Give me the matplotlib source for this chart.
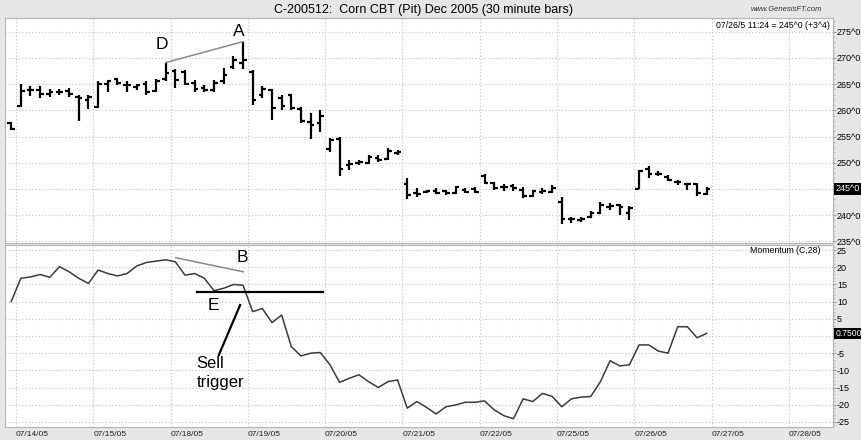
import numpy as np
import matplotlib
matplotlib.use("Agg")
import matplotlib.pyplot as plt
import matplotlib.transforms as mtransforms
from matplotlib.ticker import MultipleLocator, FuncFormatter

# ---------------- data ----------------
title = "C-200512:  Corn CBT (Pit) Dec 2005 (30 minute bars)"
site = "www.GenesisFT.com"
last_info = "07/26/5 11:24 = 245^0 (+3^4)"
mom_label = "Momentum (C,28)"
dates = ["07/14/05", "07/15/05", "07/18/05", "07/19/05", "07/20/05", "07/21/05",
         "07/22/05", "07/25/05", "07/26/05", "07/27/05", "07/28/05"]
bars_per_day = 8
first_bar = -1   # last bar of 07/13 session shown before 07/14

opens = [257.6,
         260.8, 263.9, 263.9, 263.1, 263.5, 263.7, 262.6, 262.0,
         260.6, 265.0, 265.9, 264.8, 264.5, 265.1, 263.7, 265.9,
         267.4, 267.3, 265.2, 264.2, 263.8, 265.5, 268.3, 269.1,
         267.3, 263.0, 263.9, 262.3, 262.9, 260.3, 257.8, 257.5,
         252.6, 254.6, 249.5, 250.0, 250.0, 251.0, 250.8, 251.8,
         246.0, 244.3, 244.5, 244.7, 244.6, 244.2, 244.9, 245.0,
         247.4, 246.2, 245.3, 245.6, 244.9, 243.7, 244.5, 244.4,
         242.5, 239.2, 239.0, 239.6, 240.5, 241.6, 242.0, 240.4,
         245.0, 248.8, 247.9, 247.3, 246.4, 246.0, 246.0, 244.0]
highs = [257.8,
         265.1, 264.7, 264.7, 264.0, 264.0, 264.2, 262.9, 262.9,
         265.5, 265.8, 266.1, 265.5, 265.1, 265.5, 265.9, 269.1,
         267.9, 267.7, 265.8, 264.8, 265.8, 268.0, 270.4, 273.1,
         267.6, 264.6, 264.0, 262.9, 263.2, 260.7, 259.4, 260.1,
         254.7, 255.0, 250.6, 250.6, 251.4, 251.4, 252.9, 252.4,
         247.0, 245.1, 244.9, 245.1, 244.9, 245.6, 245.1, 245.3,
         247.9, 246.4, 245.9, 246.0, 245.4, 244.9, 245.1, 245.7,
         243.5, 239.7, 239.7, 240.8, 242.6, 242.4, 242.1, 241.7,
         248.6, 249.4, 248.4, 247.6, 246.8, 246.2, 246.2, 245.3]
lows = [256.2,
        260.6, 262.7, 262.3, 262.5, 262.9, 262.6, 258.0, 260.2,
        260.4, 263.5, 264.8, 263.4, 263.9, 262.9, 263.5, 265.5,
        264.2, 264.8, 263.4, 263.4, 263.4, 265.1, 267.8, 267.8,
        261.0, 262.3, 258.2, 260.1, 260.1, 257.5, 254.5, 255.9,
        252.1, 247.5, 248.6, 249.5, 249.8, 250.2, 250.5, 251.5,
        243.0, 243.5, 244.2, 244.0, 243.9, 244.0, 244.2, 244.2,
        245.9, 244.9, 244.7, 244.7, 243.2, 243.5, 244.0, 244.2,
        238.4, 238.6, 238.7, 239.4, 240.3, 241.0, 240.0, 239.1,
        245.0, 247.0, 247.4, 246.5, 245.8, 244.8, 243.6, 243.8]
closes = [256.4,
          263.7, 263.9, 263.2, 263.5, 263.5, 263.1, 262.3, 262.6,
          265.1, 265.5, 265.3, 264.8, 264.8, 263.4, 265.6, 267.2,
          265.8, 265.0, 264.0, 263.9, 265.2, 266.8, 269.6, 269.6,
          262.0, 264.0, 260.5, 260.8, 260.5, 258.0, 257.2, 259.0,
          254.3, 248.8, 249.8, 250.1, 251.1, 250.5, 252.3, 252.0,
          243.8, 244.0, 244.6, 244.3, 244.2, 245.3, 244.5, 244.4,
          246.2, 245.1, 245.4, 245.1, 243.6, 244.6, 244.6, 245.1,
          239.2, 239.2, 239.3, 240.4, 241.9, 241.8, 241.5, 241.4,
          248.5, 247.8, 247.9, 246.8, 246.3, 246.0, 244.2, 245.0]
momentum = [10.0,
            16.8, 17.2, 17.9, 17.1, 20.2, 18.7, 16.8, 15.3,
            19.2, 18.2, 17.5, 18.2, 20.4, 21.4, 21.8, 22.2,
            21.6, 17.7, 18.2, 16.8, 13.2, 13.9, 15.0, 14.8,
            7.1, 8.0, 3.9, 6.1, -3.1, -5.8, -5.0, -4.8,
            -8.4, -13.5, -12.3, -11.3, -13.3, -15.0, -13.3, -12.8,
            -21.0, -19.1, -20.8, -22.7, -20.6, -20.1, -19.3, -19.3,
            -18.9, -21.5, -23.2, -24.1, -18.3, -19.1, -16.7, -17.6,
            -20.6, -18.3, -17.8, -17.6, -13.3, -7.2, -8.7, -8.4,
            -2.6, -2.6, -4.4, -5.0, 2.7, 2.7, -0.5, 0.75]
last_price = 245.0
last_mom_label = "0.7500"
trigger_level = 12.7

# ---------------- figure ----------------
W, H = 862, 440
plt.rcParams["font.family"] = ["Liberation Sans", "DejaVu Sans"]
fig = plt.figure(figsize=(W / 100, H / 100), dpi=100)
fig.patch.set_facecolor("#e6e6e6")

left, right = 5 / W, 833 / W
ax1 = fig.add_axes([left, 1 - 243 / H, right - left, (243 - 18) / H])
ax2 = fig.add_axes([left, 1 - 427 / H, right - left, (427 - 245) / H], sharex=ax1)

x = np.arange(len(closes)) + first_bar
o, h, l, c = map(np.asarray, (opens, highs, lows, closes))
ndays = len(dates)
bounds = np.arange(ndays) * bars_per_day - 0.5

xmin = (5 - 16) / 9.66 - 0.5
xmax = (833 - 16) / 9.66 - 0.5

grid_kw = dict(color="#c4c4c4", linestyle=(0, (1, 2)), linewidth=0.8)
for ax in (ax1, ax2):
    ax.set_facecolor("white")
    for s in ax.spines.values():
        s.set_color("#b4b4b4")
        s.set_linewidth(0.8)
    ax.yaxis.tick_right()
    ax.tick_params(axis="y", which="major", direction="out", length=2, width=0.6,
                   color="#888888", labelsize=6.5, pad=0.8, labelcolor="black")
    ax.tick_params(axis="y", which="minor", direction="out", length=1.2, width=0.5,
                   color="#aaaaaa")
    ax.set_xticks(bounds)
    ax.grid(True, which="major", **grid_kw)
    ax.set_axisbelow(True)

ax1.set_xlim(xmin, xmax)

# ---------- price (OHLC) ----------
lw = 1.6
tick = 0.38
ax1.vlines(x, l, h, color="black", lw=lw, capstyle="butt")
ax1.hlines(o, x - tick, x, color="black", lw=lw)
ax1.hlines(c, x, x + tick, color="black", lw=lw)
ax1.set_ylim(234.7, 277.6)
ax1.yaxis.set_major_locator(MultipleLocator(5))
ax1.yaxis.set_minor_locator(MultipleLocator(1))
ax1.yaxis.set_major_formatter(FuncFormatter(
    lambda v, p: "" if abs(v - last_price) < 0.01 else f"{int(round(v))}^0"))
ax1.tick_params(axis="x", length=0, labelbottom=False)

trans1 = mtransforms.blended_transform_factory(ax1.transAxes, ax1.transData)
ax1.text(1.003, last_price, f"{int(last_price)}^0", transform=trans1, ha="left",
         va="center", color="white", fontsize=6.5,
         bbox=dict(facecolor="black", edgecolor="none", pad=1.0), clip_on=False)

# D-A divergence line and letters
iD, iA = 15 - first_bar, 23 - first_bar
ax1.plot([x[iD], x[iA]], [h[iD], h[iA]], color="#8a8a8a", lw=1.1)
ax1.text(14.6, 272.6, "D", fontsize=12.5, ha="center", va="center")
ax1.text(22.6, 275.1, "A", fontsize=12.5, ha="center", va="center")

# ---------- momentum ----------
ax2.plot(x, momentum, color="#3c3c3c", lw=1.1)
ax2.set_ylim(-26.5, 26.5)
ax2.yaxis.set_major_locator(MultipleLocator(5))
ax2.yaxis.set_minor_locator(MultipleLocator(1))
ax2.yaxis.set_major_formatter(FuncFormatter(
    lambda v, p: "" if abs(v) < 0.01 else ("-" if v < 0 else "") + f"{abs(int(round(v)))}"))
trans2 = mtransforms.blended_transform_factory(ax2.transAxes, ax2.transData)
ax2.text(1.003, momentum[-1], last_mom_label, transform=trans2, ha="left",
         va="center", color="white", fontsize=6.2,
         bbox=dict(facecolor="black", edgecolor="none", pad=0.9), clip_on=False)

# B line, E trigger line, sell trigger
ax2.plot([16.03, 23.03], [22.8, 18.7], color="#8a8a8a", lw=1.1)
ax2.plot([18.2, 31.3], [trigger_level, trigger_level], color="black", lw=1.6)
ax2.plot([22.7, 20.5], [9.0, -5.5], color="black", lw=1.6)
ax2.text(22.9, 23.0, "B", fontsize=12.5, ha="center", va="center")
ax2.text(19.9, 8.9, "E", fontsize=12.5, ha="center", va="center")
ax2.text(18.2, -5.9, "Sell\ntrigger", fontsize=12, ha="left", va="top",
         linespacing=1.3)

# x axis dates
ax2.set_xticklabels(dates)
ax2.tick_params(axis="x", length=0, labelsize=6, pad=3, labelcolor="#222222")
for lab in ax2.get_xticklabels():
    lab.set_horizontalalignment("left")

# header texts
fig.text(424 / W, 1 - 9.5 / H, title, ha="center", va="center", fontsize=9)
fig.text(822 / W, 1 - 9.5 / H, site, ha="right", va="center", fontsize=5.5,
         style="italic", color="#333333")
fig.text(830 / W, 1 - 25.5 / H, last_info, ha="right", va="center", fontsize=6.3)
fig.text(821 / W, 1 - 250.5 / H, mom_label, ha="right", va="center", fontsize=6.3)

fig.savefig("out.png", dpi=100, facecolor=fig.get_facecolor())
